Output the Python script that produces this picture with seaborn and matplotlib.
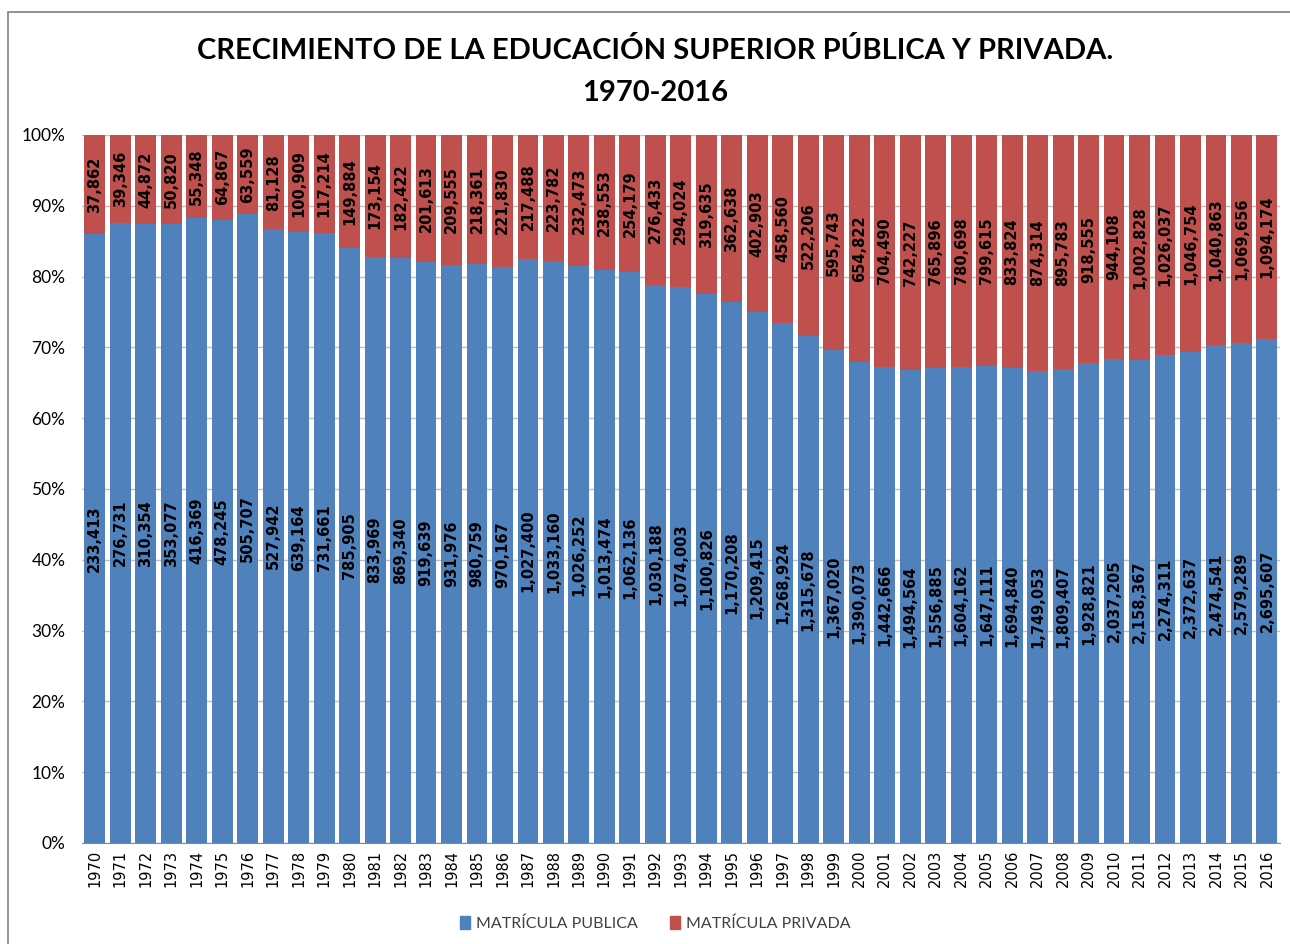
import numpy as np
import pandas as pd
import matplotlib
matplotlib.use("Agg")
import matplotlib.pyplot as plt
from matplotlib.patches import Rectangle, Patch
import seaborn as sns

# datos
years = list(range(1970, 2017))
publica = [233413, 276731, 310354, 353077, 416369, 478245, 505707, 527942, 639164, 731661,
           785905, 833969, 869340, 919639, 931976, 980759, 970167, 1027400, 1033160, 1026252,
           1013474, 1062136, 1030188, 1074003, 1100826, 1170208, 1209415, 1268924, 1315678, 1367020,
           1390073, 1442666, 1494564, 1556885, 1604162, 1647111, 1694840, 1749053, 1809407, 1928821,
           2037205, 2158367, 2274311, 2372637, 2474541, 2579289, 2695607]
privada = [37862, 39346, 44872, 50820, 55348, 64867, 63559, 81128, 100909, 117214,
           149884, 173154, 182422, 201613, 209555, 218361, 221830, 217488, 223782, 232473,
           238553, 254179, 276433, 294024, 319635, 362638, 402903, 458560, 522206, 595743,
           654822, 704490, 742227, 765896, 780698, 799615, 833824, 874314, 895783, 918555,
           944108, 1002828, 1026037, 1046754, 1040863, 1069656, 1094174]

AZUL = "#4F81BD"
ROJO = "#C0504D"

df = pd.DataFrame({"anio": [str(y) for y in years], "publica": publica, "privada": privada})
df["total"] = df["publica"] + df["privada"]
df["pct_pub"] = df["publica"] / df["total"] * 100
df["pct_tot"] = 100.0

sns.set_style("white")
plt.rcParams["text.color"] = "black"
plt.rcParams["xtick.color"] = "black"
plt.rcParams["ytick.color"] = "black"

fig = plt.figure(figsize=(12.9, 9.44), dpi=100)
ax = fig.add_axes([0.0636, 0.107, 0.9284, 0.75])

sns.barplot(data=df, x="anio", y="pct_tot", color=ROJO, width=0.82, saturation=1, ax=ax,
            linewidth=0, edgecolor="none", zorder=2)
sns.barplot(data=df, x="anio", y="pct_pub", color=AZUL, width=0.82, saturation=1, ax=ax,
            linewidth=0, edgecolor="none", zorder=3)

for i, row in df.iterrows():
    ax.text(i, row["pct_pub"] / 2, f"{row['publica']:,}", rotation=90, ha="center", va="center",
            fontsize=10.5, fontweight="bold", color="black", zorder=5)
    ax.text(i, (100 + row["pct_pub"]) / 2, f"{row['privada']:,}", rotation=90, ha="center",
            va="center", fontsize=10.5, fontweight="bold", color="black", zorder=5)

ax.set_ylim(0, 100)
ax.set_xlim(-0.5, len(years) - 0.5)
ax.set_yticks(np.arange(0, 101, 10))
ax.set_yticklabels([f"{v}%" for v in range(0, 101, 10)], fontsize=12.5, family="Lato")
ax.tick_params(axis="x", rotation=90, labelsize=10.5, length=0, pad=5)
ax.tick_params(axis="y", length=0, pad=12)
ax.yaxis.grid(True, color="#BFBFBF", linewidth=1, zorder=0)
ax.set_axisbelow(True)
ax.set_xlabel("")
ax.set_ylabel("")
for s in ["top", "right", "left"]:
    ax.spines[s].set_visible(False)
ax.spines["bottom"].set_color("#888888")

fig.text(0.508, 0.947, "CRECIMIENTO DE LA EDUCACIÓN SUPERIOR PÚBLICA Y PRIVADA.",
         ha="center", va="center", fontsize=21, fontweight="bold", family="Lato", color="black")
fig.text(0.508, 0.902, "1970-2016", ha="center", va="center", fontsize=21,
         fontweight="bold", family="Lato", color="black")

handles = [Patch(color=AZUL, label="MATRÍCULA PUBLICA"), Patch(color=ROJO, label="MATRÍCULA PRIVADA")]
fig.legend(handles=handles, loc="center", bbox_to_anchor=(0.508, 0.022), ncol=2, frameon=False,
           prop={"family": "Lato", "size": 11.5}, handlelength=0.6, handleheight=0.9,
           handletextpad=0.4, columnspacing=2.0, labelcolor="#404040")

# marco del grafico
fig.patches.append(Rectangle((8 / 1290, -0.01), 1.02, 1 - 12 / 944 + 0.01, transform=fig.transFigure,
                             fill=False, edgecolor="#7F7F7F", linewidth=1.2))

fig.savefig("out.png", dpi=100)
